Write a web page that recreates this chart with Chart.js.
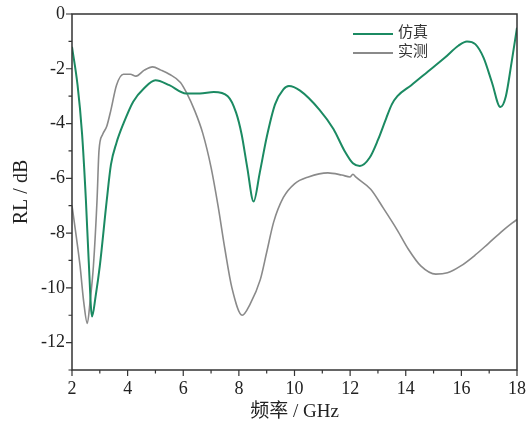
<!DOCTYPE html>
<html>
<head>
<meta charset="utf-8">
<script src="https://cdn.jsdelivr.net/npm/chart.js@4"></script>
<style>
  body { margin: 0; background: #fff; }
  #wrap { position: relative; width: 526px; height: 429px; }
  #legend { position: absolute; left: 353px; top: 23px; font-family: "Liberation Serif", "Noto Sans CJK SC", serif; font-size: 15px; color: #333; }
  #legend div { height: 19px; line-height: 19px; white-space: nowrap; }
  #legend span.line { display: inline-block; width: 40px; height: 0; vertical-align: middle; margin-right: 5px; }
</style>
</head>
<body>
<div id="wrap">
  <canvas id="rlChart" width="526" height="429"></canvas>
  <div id="legend">
    <div><span class="line" style="border-top: 2px solid #1b8a62"></span>仿真</div>
    <div><span class="line" style="border-top: 2px solid #8a8a8a"></span>实测</div>
  </div>
</div>
<script>
// simulated curve
var simFreq = [2.0, 2.2, 2.36, 2.5, 2.6, 2.72, 2.85, 3.0, 3.25, 3.4, 3.6, 3.85, 4.2, 4.6, 5.0, 5.5, 6.1, 6.6, 7.1, 7.6, 7.9, 8.1, 8.3, 8.53, 8.75, 9.0, 9.3, 9.6, 9.8, 10.2, 10.9, 11.4, 11.8, 12.1, 12.35, 12.7, 13.0, 13.3, 13.5, 13.7, 14.2, 14.8, 15.4, 15.9, 16.2, 16.5, 16.8, 17.1, 17.4, 17.6, 17.8, 18.0];
var simRL = [-1.2, -2.6, -4.35, -6.8, -9.0, -11.05, -10.3, -9.2, -6.8, -5.5, -4.7, -4.0, -3.2, -2.7, -2.42, -2.6, -2.9, -2.9, -2.85, -3.0, -3.6, -4.4, -5.6, -6.85, -5.8, -4.5, -3.3, -2.75, -2.63, -2.8, -3.5, -4.2, -5.0, -5.45, -5.55, -5.25, -4.6, -3.8, -3.3, -3.0, -2.6, -2.1, -1.6, -1.15, -1.0, -1.1, -1.6, -2.5, -3.4, -3.0, -1.8, -0.5];

// measured curve
var measFreq = [2.0, 2.15, 2.29, 2.42, 2.55, 2.65, 2.77, 2.9, 2.97, 3.1, 3.25, 3.4, 3.6, 3.85, 4.1, 4.3, 4.6, 4.9, 5.2, 5.5, 5.9, 6.13, 6.4, 6.7, 7.0, 7.25, 7.5, 7.75, 8.12, 8.4, 8.77, 9.0, 9.25, 9.6, 10.0, 10.5, 11.2, 11.7, 12.0, 12.1, 12.2, 12.74, 13.2, 13.7, 14.1, 14.54, 15.08, 15.5, 15.98, 16.5, 16.95, 17.5, 18.0];
var measRL = [-7.0, -8.1, -9.2, -10.5, -11.3, -10.5, -9.2, -6.8, -5.0, -4.4, -4.1, -3.5, -2.6, -2.2, -2.2, -2.27, -2.05, -1.93, -2.05, -2.2, -2.5, -2.9, -3.5, -4.35, -5.6, -7.0, -8.6, -10.0, -11.0, -10.6, -9.7, -8.7, -7.6, -6.7, -6.2, -5.95, -5.8, -5.88, -5.95, -5.85, -5.95, -6.4, -7.1, -7.9, -8.6, -9.2, -9.5, -9.45, -9.2, -8.8, -8.4, -7.9, -7.5];

var xMin = 2, xMax = 18, yMin = -13, yMax = 0;
var serif = "'Liberation Serif', 'Times New Roman', serif";

function toPoints(xs, ys) {
  return xs.map(function (x, i) { return { x: x, y: ys[i] }; });
}

// frame + outward ticks (major at even values, minor at odd)
var framePlugin = {
  id: 'frame',
  afterDraw: function (chart) {
    var ctx = chart.ctx, a = chart.chartArea;
    var xs = chart.scales.x, ys = chart.scales.y;
    ctx.save();
    ctx.strokeStyle = '#333';
    ctx.lineWidth = 1.5;
    ctx.strokeRect(a.left, a.top, a.right - a.left, a.bottom - a.top);
    ctx.lineWidth = 1.2;
    ctx.beginPath();
    for (var v = xMin; v <= xMax; v++) {
      var px = xs.getPixelForValue(v);
      var len = (v % 2 === 0) ? 6 : 3.5;
      ctx.moveTo(px, a.bottom);
      ctx.lineTo(px, a.bottom + len);
    }
    for (var w = yMin; w <= yMax; w++) {
      var py = ys.getPixelForValue(w);
      var len2 = (w % 2 === 0) ? 6 : 3.5;
      ctx.moveTo(a.left, py);
      ctx.lineTo(a.left - len2, py);
    }
    ctx.stroke();
    ctx.restore();
  }
};

var ctx = document.getElementById('rlChart').getContext('2d');
var chart = new Chart(ctx, {
  type: 'line',
  data: {
    datasets: [{
      label: '仿真',
      data: toPoints(simFreq, simRL),
      borderColor: '#1b8a62',
      borderWidth: 2,
      pointRadius: 0,
      tension: 0.4,
      cubicInterpolationMode: 'monotone',
    }, {
      label: '实测',
      data: toPoints(measFreq, measRL),
      borderColor: '#8a8a8a',
      borderWidth: 1.6,
      pointRadius: 0,
      tension: 0.4,
      cubicInterpolationMode: 'monotone',
    }]
  },
  options: {
    responsive: false,
    animation: false,
    layout: { padding: { top: 14, right: 9, bottom: 0, left: 0 } },
    plugins: { legend: { display: false }, tooltip: { enabled: false } },
    scales: {
      x: {
        type: 'linear',
        min: xMin,
        max: xMax,
        grid: { display: false, drawTicks: false },
        border: { display: false },
        afterFit: function (s) { s.height = 59; s.paddingLeft = 0; s.paddingRight = 0; },
        ticks: {
          stepSize: 1,
          padding: 8,
          color: '#222',
          maxRotation: 0,
          autoSkip: false,
          font: { family: serif, size: 18 },
          callback: function (v) { return v % 2 === 0 ? v : ''; }
        },
        title: {
          display: true,
          text: '频率 / GHz',
          color: '#222',
          padding: { top: 0, bottom: 6 },
          font: { family: "'Liberation Serif', 'Times New Roman', 'Noto Sans CJK SC', serif", size: 19 }
        }
      },
      y: {
        min: yMin,
        max: yMax,
        grid: { display: false, drawTicks: false },
        border: { display: false },
        afterFit: function (s) { s.width = 72; s.paddingTop = 0; s.paddingBottom = 0; },
        ticks: {
          stepSize: 1,
          padding: 7,
          color: '#222',
          autoSkip: false,
          font: { family: serif, size: 18 },
          callback: function (v) { return v % 2 === 0 ? v : ''; }
        },
        title: {
          display: true,
          text: 'RL / dB',
          color: '#222',
          padding: { top: 10, bottom: 0 },
          font: { family: serif, size: 20 }
        }
      }
    }
  },
  plugins: [framePlugin]
});
</script>
</body>
</html>
